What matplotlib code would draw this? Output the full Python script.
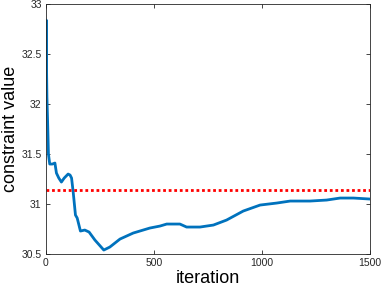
import numpy as np
import matplotlib.pyplot as plt

plt.rcParams["font.family"] = ["Liberation Sans", "DejaVu Sans"]

# constraint value over iterations
iteration = [0, 2, 3, 5, 8, 12, 18, 30, 42, 49, 60, 72, 85, 103, 112, 119, 127,
             137, 145, 160, 180, 200, 227, 268, 296, 343, 404, 481, 528, 559,
             620, 651, 713, 775, 836, 913, 991, 1068, 1130, 1222, 1299, 1361,
             1423, 1500]
value = [31.9, 32.84, 32.4, 32.07, 31.84, 31.5, 31.40, 31.40, 31.41, 31.31,
         31.26, 31.22, 31.26, 31.30, 31.29, 31.26, 31.11, 30.89, 30.86, 30.73,
         30.74, 30.72, 30.64, 30.54, 30.57, 30.65, 30.71, 30.76, 30.78, 30.80,
         30.80, 30.77, 30.77, 30.79, 30.84, 30.93, 30.99, 31.01, 31.03, 31.03,
         31.04, 31.06, 31.06, 31.05]
threshold = 31.14

fig = plt.figure(figsize=(3.82, 2.91), dpi=100)
ax = fig.add_axes([0.120, 0.127, 0.849, 0.859])
ax.plot(iteration, value, color="#0072BD", linewidth=2.0)
ax.axhline(threshold, color="red", linestyle=(0, (1, 1)), linewidth=2.0)

ax.set_xlim(0, 1500)
ax.set_ylim(30.5, 33)
ax.set_xticks([0, 500, 1000, 1500])
ax.set_yticks([30.5, 31, 31.5, 32, 32.5, 33])
ax.set_yticklabels(["30.5", "31", "31.5", "32", "32.5", "33"])
ax.tick_params(direction="in", labelsize=7.5, colors="#262626", length=3,
               width=0.6, top=True, right=True, pad=3)
for s in ax.spines.values():
    s.set_color("#262626")
    s.set_linewidth(0.6)
ax.set_xlabel("iteration", fontsize=13, labelpad=1)
ax.set_ylabel("constraint value", fontsize=13, labelpad=2)

fig.savefig("out.png", dpi=100)
